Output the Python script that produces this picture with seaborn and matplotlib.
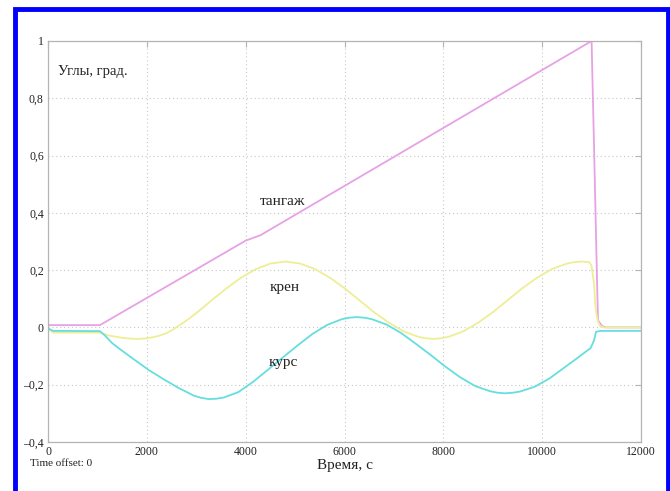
import matplotlib
matplotlib.use("Agg")
import matplotlib.pyplot as plt
import matplotlib.ticker as mticker
from matplotlib.patches import Rectangle
import pandas as pd
import seaborn as sns

# Pitch (тангаж), degrees
pitch_t = [0, 1050, 4000, 4300, 11000, 11050, 11110, 11130, 11210, 11300, 12000]
pitch_v = [0.008, 0.008, 0.303, 0.322, 1.0, 0.63, 0.166, 0.025, 0.005, 0.0, 0.0]

# Roll (крен), degrees
roll_t = [0, 100, 1050, 1200, 1350, 1500, 1650, 1800, 1950, 2100, 2250, 2400,
          2550, 2700, 2850, 3000, 3300, 3600, 3900, 4200, 4500, 4800, 5100,
          5400, 5700, 6000, 6300, 6600, 6900, 7200, 7500, 7650, 7800, 7950,
          8100, 8400, 8700, 9000, 9300, 9600, 9900, 10200, 10500, 10650,
          10800, 10950, 11000, 11050, 11080, 11120, 11170, 11250, 12000]
roll_v = [-0.005, -0.018, -0.018, -0.027, -0.032, -0.036, -0.039, -0.040,
          -0.039, -0.035, -0.029, -0.020, -0.005, 0.012, 0.030, 0.050, 0.093,
          0.135, 0.173, 0.203, 0.223, 0.230, 0.223, 0.204, 0.174, 0.137,
          0.095, 0.053, 0.016, -0.014, -0.033, -0.038, -0.040, -0.038,
          -0.033, -0.014, 0.016, 0.053, 0.095, 0.137, 0.174, 0.204, 0.223,
          0.228, 0.230, 0.228, 0.215, 0.150, 0.070, 0.025, 0.005, 0.0, 0.0]

# Heading (курс), degrees
yaw_t = [0, 100, 1050, 1150, 1300, 1450, 1750, 2050, 2350, 2650, 2950, 3100,
         3250, 3400, 3550, 3850, 4150, 4450, 4750, 5050, 5350, 5650, 5950,
         6100, 6250, 6400, 6550, 6850, 7150, 7450, 7750, 8050, 8350, 8650,
         8950, 9100, 9250, 9400, 9550, 9850, 10150, 10450, 10750, 10980,
         11050, 11090, 11200, 12000]
yaw_v = [-0.003, -0.012, -0.013, -0.028, -0.055, -0.075, -0.113, -0.150,
         -0.182, -0.212, -0.238, -0.246, -0.250, -0.249, -0.245, -0.226,
         -0.190, -0.148, -0.105, -0.063, -0.023, 0.009, 0.029, 0.034, 0.036,
         0.034, 0.029, 0.010, -0.020, -0.058, -0.097, -0.138, -0.175, -0.205,
         -0.223, -0.228, -0.230, -0.228, -0.224, -0.207, -0.178, -0.140,
         -0.102, -0.072, -0.045, -0.015, -0.012, -0.012]

series_names = ["тангаж", "крен", "курс"]
series_colors = ["#e6a2e4", "#eeee96", "#66dede"]

x_ticks = [0, 2000, 4000, 6000, 8000, 10000, 12000]
y_ticks = [-0.4, -0.2, 0, 0.2, 0.4, 0.6, 0.8, 1]

frames = []
for name, t, v in zip(series_names, [pitch_t, roll_t, yaw_t],
                      [pitch_v, roll_v, yaw_v]):
    frames.append(pd.DataFrame({"t": t, "v": v, "name": name}))
data = pd.concat(frames, ignore_index=True)

sns.set_theme(style="white")
plt.rcParams["font.family"] = ["Liberation Serif", "DejaVu Serif"]

fig = plt.figure(figsize=(6.7, 4.91), dpi=100)
ax = fig.add_axes([48 / 670, 1 - 442 / 491, 593 / 670, 401 / 491])

sns.lineplot(data=data, x="t", y="v", hue="name", hue_order=series_names,
             palette=series_colors, linewidth=1.3, legend=False, ax=ax,
             sort=False, estimator=None)

ax.set_xlim(0, 12000)
ax.set_ylim(-0.4, 1.0)
ax.set_xticks(x_ticks)
ax.set_yticks(y_ticks)


def comma_fmt(val, pos):
    if abs(val) < 1e-9:
        return "0"
    s = ("%g" % val).replace(".", ",")
    return s.replace("-", "\u2013")


ax.yaxis.set_major_formatter(mticker.FuncFormatter(comma_fmt))
ax.xaxis.set_major_formatter(mticker.FuncFormatter(lambda v, p: "%d" % v))

ax.grid(True, color="#c8c8c8", linestyle=(0, (1, 2.5)), linewidth=0.8)
for sp in ax.spines.values():
    sp.set_color("#b4b4b4")
    sp.set_linewidth(0.9)
ax.tick_params(direction="in", length=4, width=0.8, color="#b4b4b4",
               top=True, right=True, labelsize=8.5, labelcolor="#222222",
               pad=3)
ax.set_xlabel("")
ax.set_ylabel("")

ax.text(0.017, 0.925, "Углы, град.", transform=ax.transAxes, fontsize=10.5,
        color="#222222", va="center", ha="left")
ax.text(4750, 0.44, "тангаж", fontsize=11, color="#222222", ha="center",
        va="center")
ax.text(4790, 0.14, "крен", fontsize=11, color="#222222", ha="center",
        va="center")
ax.text(4760, -0.122, "курс", fontsize=11, color="#222222", ha="center",
        va="center")

fig.text(345 / 670, 1 - 465 / 491, "Время, с", fontsize=11,
         color="#222222", ha="center", va="center")
fig.text(30 / 670, 1 - 464 / 491, "Time offset: 0", fontsize=8,
         color="#222222", ha="left", va="center")

fig.patches.append(Rectangle((15 / 670, -0.05), 653 / 670, 1 - 9 / 491 + 0.05,
                             transform=fig.transFigure, fill=False,
                             edgecolor="#0000ff", linewidth=3.5))

fig.savefig("out.png", dpi=100)
